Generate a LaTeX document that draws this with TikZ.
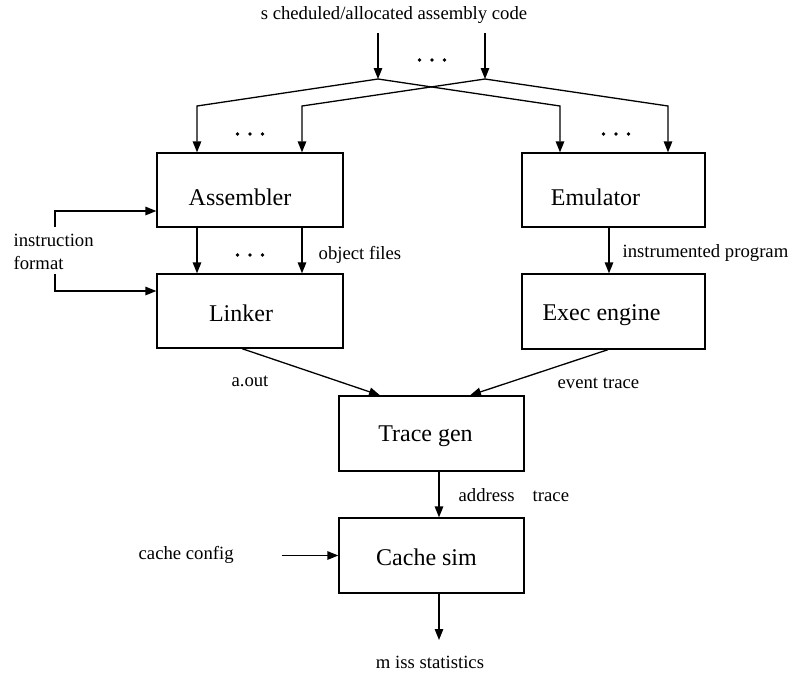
\documentclass[tikz,border=0pt]{standalone}
\usepackage{fontspec}
\setmainfont{Liberation Serif}
\usetikzlibrary{arrows.meta,calc}
\begin{document}
\begin{tikzpicture}[x=1pt,y=-1pt,
  line width=1.3pt,
  arr/.style={-{Triangle[length=11pt,width=8.5pt]}},
  stage/.style={draw,inner sep=0pt,minimum height=74pt,font=\fontsize{24}{28}\selectfont},
  lbl/.style={inner sep=0pt,font=\fontsize{18.7}{23}\selectfont},
  dotmark/.style={fill=black}]
\useasboundingbox (0,0) rectangle (789,673);

% processing stages
\node[stage,minimum width=186pt] (asm) at (250,190) {};
\node[stage,minimum width=186pt] (lnk) at (250,311) {};
\node[stage,minimum width=183pt] (emu) at (613.5,190) {};
\node[stage,minimum width=183pt,minimum height=75pt] (exe) at (613.5,311.5) {};
\node[stage,minimum width=185pt,minimum height=75pt] (trc) at (431.5,433.5) {};
\node[stage,minimum width=185pt,minimum height=75pt] (csm) at (431.5,555.5) {};

% stage names, set slightly off centre
\node[lbl,font=\fontsize{24}{28}\selectfont] (asmtxt) at ([xshift=-10pt,yshift=-7pt]asm.center) {Assembler};
\node[lbl,font=\fontsize{24}{28}\selectfont] (lnktxt) at ([xshift=-9pt,yshift=-2pt]lnk.center) {Linker};
\node[lbl,font=\fontsize{24}{28}\selectfont] (emutxt) at ([xshift=-18pt,yshift=-7pt]emu.center) {Emulator};
\node[lbl,font=\fontsize{24}{28}\selectfont] (exetxt) at ([xshift=-12pt,yshift=-4pt]exe.center) {Exec engine};
\node[lbl,font=\fontsize{24}{28}\selectfont] (trctxt) at ([xshift=-6pt,yshift=-3pt]trc.center) {Trace gen};
\node[lbl,font=\fontsize{24}{28}\selectfont] (csmtxt) at ([xshift=-5pt,yshift=-2pt]csm.center) {Cache sim};

% text labels
\node[lbl] (title) at (394,15) {s cheduled/allocated assembly code};
\node[lbl,anchor=west] (objf) at (318,255) {object files};
\node[lbl,anchor=west] (instr) at (622,253) {instrumented program};
\node[lbl] (aout) at (250,381) {a.out};
\node[lbl,anchor=west] (evt) at (557,383) {event trace};
\node[lbl,anchor=west] (addr) at (458,495) {address\hspace{18pt}trace};
\node[lbl,anchor=west] (cfg) at (138,555) {cache config};
\node[lbl] (miss) at (430,662) {m iss statistics};
\node[lbl,anchor=west,align=left] (ifmt) at (13,251.5) {instruction\\format};

% input streams and their fan-out
\coordinate (inA) at (378,33);
\coordinate (inB) at (485,33);
\coordinate (jA) at (378,79);
\coordinate (jB) at (485,79);
\draw[arr] (inA) -- (jA);
\draw[arr] (inB) -- (jB);
\draw[arr] (jA) -- ([xshift=-53pt]asm.north |- 0,106) -- ([xshift=-53pt]asm.north);
\draw[arr] (jB) -- ([xshift=52pt]asm.north |- 0,106) -- ([xshift=52pt]asm.north);
\draw[arr] (jA) -- ([xshift=-53.5pt]emu.north |- 0,106) -- ([xshift=-53.5pt]emu.north);
\draw[arr] (jB) -- ([xshift=54.5pt]emu.north |- 0,106) -- ([xshift=54.5pt]emu.north);

% ellipses between parallel streams
\foreach \x in {419.5,432,444.5} \fill[dotmark] (\x,60) circle (1.9pt);
\foreach \x in {237.5,250,262.5} \fill[dotmark] (\x,134) circle (1.9pt);
\foreach \x in {603.5,616,628.5} \fill[dotmark] (\x,134) circle (1.9pt);
\foreach \x in {237.5,250,262.5} \fill[dotmark] (\x,255) circle (1.9pt);

% assembler to linker
\draw[arr] ([xshift=-53pt]asm.south) -- ([xshift=-53pt]lnk.north);
\draw[arr] ([xshift=52pt]asm.south) -- ([xshift=52pt]lnk.north);

% instruction format feeds both
\coordinate (fbtop) at (55,227);
\coordinate (fbbot) at (55,274);
\draw[arr] (fbtop) |- ([yshift=-21pt]asm.west);
\draw[arr] (fbbot) |- ([yshift=20pt]lnk.west);

% emulator to exec engine
\draw[arr] ([xshift=-4.5pt]emu.south) -- ([xshift=-4.5pt]exe.north);

% into trace generation
\draw[arr] ([xshift=-8pt]lnk.south) -- ([xshift=-51.5pt]trc.north);
\draw[arr] ([xshift=-5.5pt]exe.south) -- ([xshift=38.5pt]trc.north);

% trace to cache simulation
\draw[arr] ([xshift=7.5pt]trc.south) -- ([xshift=7.5pt]csm.north);
\coordinate (cfgend) at (282,555.5);
\draw[arr] (cfgend) -- (csm.west);
\coordinate (outend) at (439,640);
\draw[arr] ([xshift=7.5pt]csm.south) -- (outend);
\end{tikzpicture}
\end{document}
